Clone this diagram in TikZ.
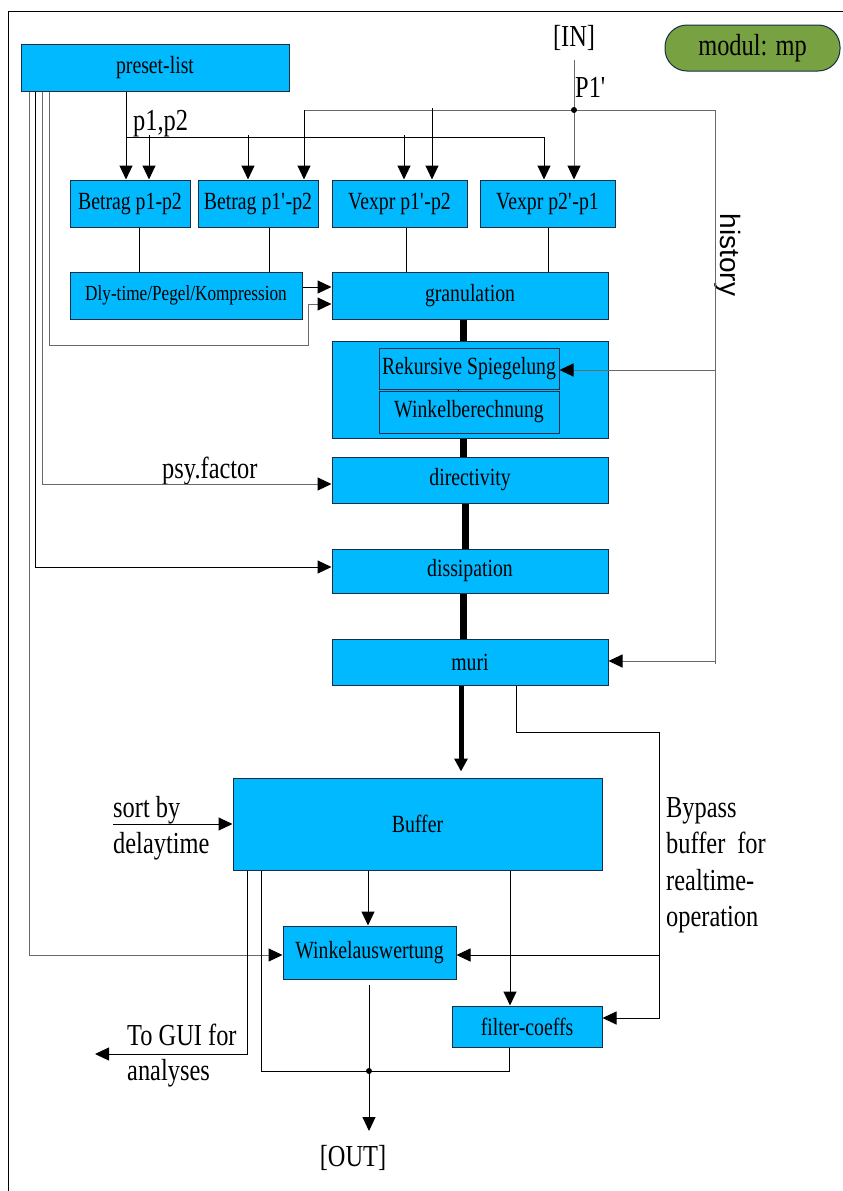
\documentclass[tikz,border=0pt]{standalone}
\usepackage{fontspec}
\setmainfont{Liberation Serif}[FakeStretch=0.8]
\newfontfamily\histfont{Liberation Sans}
\usetikzlibrary{arrows.meta}
\definecolor{boxblue}{RGB}{0,185,255}
\definecolor{boxedge}{RGB}{25,45,70}
\definecolor{modgreen}{RGB}{120,162,66}
\definecolor{wiregrey}{RGB}{105,105,105}
\newcommand\boxsize{\fontsize{24.7}{28}\selectfont}
\newcommand\labsize{\fontsize{30.5}{36}\selectfont}
\newcommand\dlysize{\fontsize{21.5}{25}\selectfont}
\newcommand\pr{\textquotesingle}

\begin{document}
\begin{tikzpicture}[x=1pt,y=-1pt,
  blk/.style={draw=boxedge, fill=boxblue, line width=1pt, inner sep=0pt, font=\boxsize},
  wire/.style={draw=black, line width=1pt},
  gwire/.style={draw=wiregrey, line width=1pt},
  arrowed/.style={-{Triangle[length=14pt,width=13pt,color=black]}},
  spine/.style={draw=black, line width=7pt},
  lab/.style={font=\labsize, inner sep=0pt},
  junction/.style={fill=black, circle, inner sep=0pt, minimum size=6pt}
]
\useasboundingbox (0,0) rectangle (843,1191);

% outer frame
\draw[line width=1pt] (843,11) -- (8,11) -- (8,1191);

% module tag
\node[draw=boxedge, fill=modgreen, line width=1pt, rounded corners=22pt,
      minimum width=175pt, minimum height=46pt, inner sep=0pt, font=\labsize]
      (modul) at (752.5,48) {modul: mp};

% blocks
\node[blk, minimum width=268pt, minimum height=47pt] (preset) at (155,67.5) {preset-list};
\node[blk, minimum width=120pt, minimum height=47pt] (b1) at (130,203.5) {Betrag p1-p2};
\node[blk, minimum width=120pt, minimum height=47pt] (b2) at (258,203.5) {Betrag p1\pr-p2};
\node[blk, minimum width=135pt, minimum height=47pt] (v1) at (399.5,203.5) {Vexpr p1\pr-p2};
\node[blk, minimum width=135pt, minimum height=47pt] (v2) at (547.5,203.5) {Vexpr p2\pr-p1};
\node[blk, minimum width=232pt, minimum height=47pt, font=\dlysize] (dly) at (186,295.5) {Dly-time/Pegel/Kompression};
\node[blk, minimum width=276pt, minimum height=47pt] (gran) at (470,295.5) {granulation};
\node[blk, minimum width=276pt, minimum height=97pt] (spieg) at (470,389.5) {};
\node[blk, minimum width=180pt, minimum height=41pt] (rek) at (469,368.5) {Rekursive Spiegelung};
\node[blk, minimum width=180pt, minimum height=42pt] (wb) at (469,412) {Winkelberechnung};
\node[blk, minimum width=276pt, minimum height=46pt] (dir) at (470,480) {directivity};
\node[blk, minimum width=276pt, minimum height=44pt] (diss) at (470,571) {dissipation};
\node[blk, minimum width=276pt, minimum height=46pt] (muri) at (470,662) {muri};
\node[blk, minimum width=369pt, minimum height=92pt] (buf) at (417.5,824) {Buffer};
\node[blk, minimum width=173pt, minimum height=53pt] (wa) at (369.5,952.5) {Winkelauswertung};
\node[blk, minimum width=150pt, minimum height=41pt] (fc) at (527,1026.5) {filter-coeffs};

% free ends
\coordinate (inend) at (574,60);
\coordinate (pj) at (574,110);
\coordinate (pb) at (126,137);
\coordinate (gui) at (95,1054);
\coordinate (sortin) at (113,824);
\coordinate (outtip) at (369,1131);

% labels
\node[lab, anchor=base] (inlab) at (574,46.5) {[IN]};
\node[lab, anchor=base west] (plab) at (575,97) {P1\pr};
\node[lab, anchor=base west] (pplab) at (133,130) {p1,p2};
\node[lab, anchor=base west] (psylab) at (162,478) {psy.factor};
\node[lab, anchor=base west] (sort1) at (113,817) {sort by};
\node[lab, anchor=base west] (sort2) at (113,853) {delaytime};
\node[lab, anchor=base west] (gui1) at (127,1045) {To GUI for};
\node[lab, anchor=base west] (gui2) at (127,1080) {analyses};
\node[lab, anchor=base west] (byp1) at (666,817) {Bypass};
\node[lab, anchor=base west] (byp2) at (666,853) {buffer\hspace{12pt}for};
\node[lab, anchor=base west] (byp3) at (666,890) {realtime-};
\node[lab, anchor=base west] (byp4) at (666,926) {operation};
\node[lab, anchor=base] (outlab) at (353,1166.5) {[OUT]};
\node[font=\histfont\fontsize{28}{32}\selectfont, rotate=-90, inner sep=0pt] (hist) at (728,255) {history};

% preset-list feeds
\draw[wire, arrowed] (126,0 |- preset.south) -- (126,0 |- b1.north);
\draw[wire, arrowed] (pb) -| (544,0 |- v2.north);
\foreach \x/\t in {149/b1, 248/b2, 404/v1}
  \draw[wire, arrowed] (\x,135) -- (\x,0 |- \t.north);

% input point and history bus
\draw[gwire, arrowed] (inend) -- (574,0 |- v2.north);
\draw[gwire] (304,110) -- (715,110) -- (715,664);
\draw[wire, arrowed] (304,110) -- (304,0 |- b2.north);
\draw[wire, arrowed] (432,108) -- (432,0 |- v1.north);
\draw[gwire, arrowed] (716,661) -- (muri.east |- 0,661);
\draw[gwire, arrowed] (715,370) -- (rek.east |- 0,370);
\node[junction] at (pj) {};

% pair blocks into the next row
\draw[wire] (139,0 |- b1.south) -- (139,0 |- dly.north);
\draw[wire] (269,0 |- b2.south) -- (269,0 |- dly.north);
\draw[wire] (406,0 |- v1.south) -- (406,0 |- gran.north);
\draw[wire] (548,0 |- v2.south) -- (548,0 |- gran.north);
\draw[wire, arrowed] (dly.east |- 0,287) -- (gran.west |- 0,287);

% side feeds from preset-list
\draw[gwire, arrowed] (49,0 |- preset.south) |- (308,345) |- (gran.west |- 0,304);
\draw[gwire, arrowed] (42,0 |- preset.south) |- (dir.west |- 0,484);
\draw[wire, arrowed] (35,0 |- preset.south) |- (diss.west |- 0,567);
\draw[gwire, arrowed] (29,0 |- preset.south) |- (wa.west |- 0,955);

% main signal chain
\draw[spine] (463,0 |- gran.south) -- (463,0 |- spieg.north);
\draw[spine] (463,0 |- spieg.south) -- (463,0 |- dir.north);
\draw[spine] (465,0 |- dir.south) -- (465,0 |- diss.north);
\draw[spine] (463,0 |- diss.south) -- (463,0 |- muri.north);
\draw[line width=5pt, -{Triangle[length=13pt,width=13pt]}, shorten >=6pt]
  (461,0 |- muri.south) -- (461,0 |- buf.north);
\draw[wire, line width=0.6pt] (458,0 |- rek.south) -- (458,0 |- wb.north);

% realtime bypass
\draw[wire, arrowed] (516,0 |- muri.south) |- (659,732) |- (fc.east |- 0,1018);
\draw[wire, arrowed] (659,955) -- (wa.east |- 0,955);

% buffer outputs
\draw[wire, arrowed] (sortin) -- (buf.west |- sortin);
\draw[wire, arrowed] (247,0 |- buf.south) |- (gui);
\draw[wire] (261,0 |- buf.south) |- (509,1071) -- (509,0 |- fc.south);
\draw[wire, arrowed] (368,0 |- buf.south) -- (368,0 |- wa.north);
\draw[wire, arrowed] (510,0 |- buf.south) -- (510,0 |- fc.north);
\draw[wire, arrowed, shorten <=5pt] (369,0 |- wa.south) -- (outtip);
\node[junction] at (369,1071) {};
\end{tikzpicture}
\end{document}
